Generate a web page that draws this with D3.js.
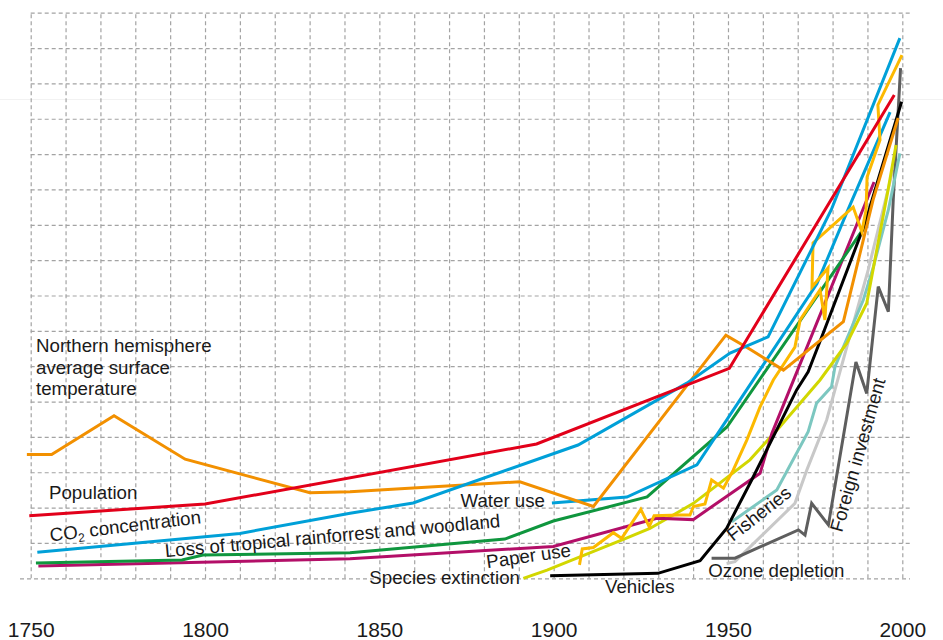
<!DOCTYPE html>
<html><head><meta charset="utf-8">
<script src="https://cdn.jsdelivr.net/npm/d3@7/dist/d3.min.js"></script>
<style>html,body{margin:0;padding:0;background:#fff;} svg{display:block;}</style>
</head><body>
<svg id="chart" width="943" height="640"></svg>
<script>
// ---------- data (year, relative level in grid units) ----------
const tickYears = [1750, 1800, 1850, 1900, 1950, 2000];
const gridYears = [1750,1760,1770,1780,1790,1800,1810,1820,1830,1840,1850,1860,1870,1880,1890,1900,1910,1920,1930,1940,1950,1960,1970,1980,1990,2000];
const gridLevels = [0,1,2,3,4,5,6,7,8,9,10,11,12,13,14,15,16];

const population = [[1749.6,1.77],[1800.0,2.10],[1895.1,3.80],[1950.4,5.94],[1997.7,13.67]];
const co2 = [[1751.9,0.74],[1810.0,1.27],[1841.6,1.84],[1859.7,2.13],[1907.0,3.77],[1938.2,5.52],[1950.6,6.37],[1961.5,6.83],[1979.6,10.42],[1999.3,15.28]];
const waterUse = [[1899.5,2.13],[1921.0,2.30],[1941.1,3.21],[1956.3,5.47],[1975.5,8.33],[1984.4,10.42],[1996.5,13.19]];
const temperature = [[1748.9,3.50],[1756.0,3.50],[1773.9,4.60],[1794.3,3.37],[1830.1,2.42],[1841.6,2.45],[1890.3,2.73],[1911.4,2.03],[1949.4,6.88],[1956.3,6.48],[1965.9,5.89],[1983.1,7.26],[1991.6,10.70],[1998.8,13.02]];
const paperUse = [[1907.4,0.38],[1908.2,0.83],[1911.4,0.87],[1917.1,1.29],[1919.5,1.13],[1925.0,1.95],[1927.4,1.46],[1928.8,1.77],[1936.2,1.79],[1939.1,1.79],[1940.1,2.03],[1943.4,2.10],[1945.3,2.78],[1948.7,2.55],[1951.5,3.06],[1955.4,3.91],[1959.2,4.85],[1963.0,5.61],[1969.2,6.54],[1970.7,7.31],[1976.4,8.16],[1977.8,7.31],[1978.7,8.78],[1974.1,8.24],[1974.4,9.49],[1985.9,10.50],[1988.4,9.80],[1989.6,10.42],[1989.9,11.35],[1993.6,12.40],[1993.0,13.39],[1999.9,14.80]];
const rainforestLoss = [[1751.5,0.43],[1793.4,0.52],[1799.4,0.66],[1841.6,0.72],[1886.0,1.11],[1899.9,1.62],[1926.8,2.30],[1949.7,4.28],[1990.2,10.08]];
const magentaSeries = [[1752.2,0.35],[1841.6,0.55],[1899.9,0.90],[1929.6,1.70],[1940.0,1.66],[1959.2,2.97],[1962.6,4.10],[1991.9,11.21]];
const speciesExtinction = [[1891.3,0.00],[1898.1,0.23],[1920.0,1.10],[1927.6,1.41],[1940.1,2.12],[1956.3,3.35],[1964.9,4.29],[1976.4,5.61],[1984.1,6.65],[1989.8,7.78],[1995.9,10.98],[1998.2,12.26]];
const vehicles = [[1899.0,0.07],[1929.9,0.14],[1942.0,0.50],[1949.6,1.41],[1956.8,2.78],[1969.7,5.33],[1973.0,5.84],[1977.3,6.93],[1989.3,10.04],[1999.8,13.48]];
const fisheries = [[1951.1,1.60],[1964.0,2.50],[1973.0,4.15],[1975.4,4.95],[1979.7,5.42],[1980.7,5.99],[1988.8,7.87],[1991.7,8.81],[1996.0,10.42],[1999.3,12.02]];
const ozoneDepletion = [[1949.6,0.42],[1952.0,0.47],[1969.2,2.12],[1972.6,3.06],[1978.3,4.48],[1984.1,6.55],[1990.2,8.72],[1997.3,11.55]];
const foreignInvestment = [[1945.3,0.57],[1952.0,0.57],[1970.2,1.37],[1972.1,1.22],[1974.0,2.12],[1978.8,1.51],[1986.7,6.12],[1989.8,5.23],[1993.1,8.25],[1996.0,7.54],[1997.4,10.70],[1999.5,14.43]];

const seriesList = [
  {data: ozoneDepletion, color: "#c8c8c8"},
  {data: foreignInvestment, color: "#5e5e5e"},
  {data: fisheries, color: "#7cc7c0"},
  {data: speciesExtinction, color: "#d2d700"},
  {data: magentaSeries, color: "#b30f68"},
  {data: rainforestLoss, color: "#0f963e"},
  {data: vehicles, color: "#000000"},
  {data: waterUse, color: "#00a0d8"},
  {data: paperUse, color: "#fcb900"},
  {data: temperature, color: "#f29000"},
  {data: co2, color: "#00a0d8"},
  {data: population, color: "#e2001a"}
];

// ---------- chart ----------
const svg = d3.select("#chart");
const x = d3.scaleLinear().domain([1750, 2000]).range([30.7, 902.3]);
const y = d3.scaleLinear().domain([0, 16]).range([578.3, 12.7]);

// faint background rule
svg.append("line").attr("x1", 0).attr("x2", 943).attr("y1", 99.5).attr("y2", 99.5)
  .attr("stroke", "#f2f2f2").attr("stroke-width", 1);

const gridStyle = g => {
  g.select(".domain").remove();
  g.selectAll("text").remove();
  g.selectAll("line").attr("stroke", "#a3a3a3").attr("stroke-width", 1.2).attr("stroke-dasharray", "4,3");
};

// vertical grid
svg.append("g").attr("transform", `translate(0,${y(0)})`)
  .call(d3.axisBottom(x).tickValues(gridYears).tickSize(-(y(0) - y(16))).tickFormat(""))
  .call(gridStyle);

// horizontal grid
const hg = svg.append("g").attr("transform", `translate(${x(1750)},0)`)
  .call(d3.axisLeft(y).tickValues(gridLevels).tickSize(-(910 - x(1750))).tickFormat(""))
  .call(gridStyle);
hg.selectAll(".tick").filter(d => d === 0).select("line").attr("x1", 20 - x(1750));

// series lines
const line = d3.line().x(d => x(d[0])).y(d => y(d[1]));
svg.append("g").selectAll("path").data(seriesList).join("path")
  .attr("d", d => line(d.data))
  .attr("fill", "none")
  .attr("stroke", d => d.color)
  .attr("stroke-width", 3)
  .attr("stroke-linejoin", "miter")
  .attr("stroke-miterlimit", 4);

// x axis labels
const xa = svg.append("g").attr("transform", `translate(0,${y(0)})`)
  .call(d3.axisBottom(x).tickValues(tickYears).tickSize(0).tickPadding(44).tickFormat(d3.format("d")));
xa.select(".domain").remove();
xa.selectAll("text").attr("font-family", "Liberation Sans, Arial, sans-serif")
  .attr("font-size", 21).attr("fill", "#1a1a1a");

// series labels
const font = "Liberation Sans, Arial, sans-serif";
const fs = 18.7;
const lab = svg.append("g").attr("font-family", font).attr("font-size", fs).attr("fill", "#1a1a1a");

const nh = lab.append("text").attr("x", 36).attr("y", 352);
["Northern hemisphere", "average surface", "temperature"].forEach((t, i) => {
  nh.append("tspan").attr("x", 36).attr("y", 352 + i * 21.7).text(t);
});

lab.append("text").attr("x", 49).attr("y", 499.3).text("Population");

const co2t = lab.append("text").attr("transform", "translate(50.5,541.5) rotate(-6.9)");
co2t.append("tspan").text("CO");
co2t.append("tspan").attr("font-size", 12).attr("dy", 4).text("2");
co2t.append("tspan").attr("dy", -4).text(" concentration");

lab.append("text").attr("transform", "translate(165.5,557.3) rotate(-5.15)")
  .text("Loss of tropical rainforrest and woodland");

lab.append("text").attr("x", 460.5).attr("y", 507.3).text("Water use");

lab.append("text").attr("transform", "translate(487.3,568.3) rotate(-8.2)").text("Paper use");

lab.append("text").attr("x", 369.3).attr("y", 584).text("Species extinction");

lab.append("text").attr("x", 605).attr("y", 593.3).text("Vehicles");

lab.append("text").attr("x", 708.3).attr("y", 576.7).text("Ozone depletion");

lab.append("text").attr("transform", "translate(733,542) rotate(-38)").text("Fisheries");

lab.append("text").attr("transform", "translate(842,533) rotate(-74)").text("Foreign investment");
</script>
</body></html>
